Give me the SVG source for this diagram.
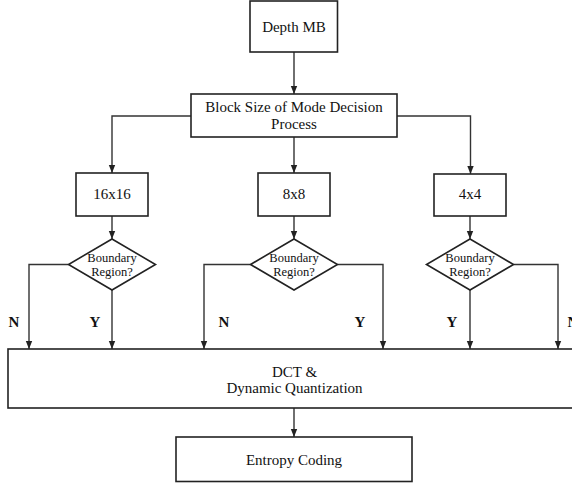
<svg xmlns="http://www.w3.org/2000/svg" width="572" height="484" viewBox="0 0 572 484">
<style>
.box{fill:#fff;stroke:#222;stroke-width:1.6}
.ln{fill:none;stroke:#333;stroke-width:1.4;marker-end:url(#ah)}
.t{font-family:"Liberation Serif","Times New Roman",serif;font-size:15px;fill:#111;text-anchor:middle}
.s{font-family:"Liberation Serif","Times New Roman",serif;font-size:12.5px;fill:#111;text-anchor:middle}
.b{font-family:"Liberation Serif","Times New Roman",serif;font-size:15px;font-weight:bold;fill:#111;text-anchor:middle}
</style>
<defs>
<marker id="ah" viewBox="0 0 8 8" refX="8" refY="4" markerWidth="8" markerHeight="8" markerUnits="userSpaceOnUse" orient="auto">
<path d="M0,0.8 L8,4 L0,7.2 Z" fill="#222"/>
</marker>
</defs>
<rect width="572" height="484" fill="#fff"/>
<g id="connectors">
<path class="ln" d="M294,52 V94"/>
<path class="ln" d="M191,116 H112 V173"/>
<path class="ln" d="M294,137 V173"/>
<path class="ln" d="M397,116 H470.5 V174"/>
<path class="ln" d="M112,216 V239"/>
<path class="ln" d="M294,216 V239"/>
<path class="ln" d="M470,216 V239"/>
<path class="ln" d="M68.5,264.5 H29 V349"/>
<path class="ln" d="M112,290 V349"/>
<path class="ln" d="M250.5,264.5 H204 V349"/>
<path class="ln" d="M337.5,264.5 H383 V349"/>
<path class="ln" d="M470,290 V349"/>
<path class="ln" d="M513.5,264.5 H558 V349"/>
<path class="ln" d="M294,408 V437"/>
<text class="b" x="14" y="327">N</text>
<text class="b" x="95" y="327">Y</text>
<text class="b" x="224" y="327">N</text>
<text class="b" x="360" y="327">Y</text>
<text class="b" x="452" y="327">Y</text>
<text class="b" x="573" y="327">N</text>
</g>
<g id="depth-mb">
<rect class="box" x="250" y="1" width="87.5" height="51"/>
<text class="t" x="294" y="32">Depth MB</text>
</g>
<g id="block-size">
<rect class="box" x="191" y="94" width="206" height="43"/>
<text class="t" x="294" y="112">Block Size of Mode Decision</text>
<text class="t" x="294" y="129">Process</text>
</g>
<g id="b16">
<rect class="box" x="76" y="173" width="72" height="43"/>
<text class="t" x="112" y="199">16x16</text>
</g>
<g id="b8">
<rect class="box" x="258" y="173" width="72" height="43"/>
<text class="t" x="294" y="199">8x8</text>
</g>
<g id="b4">
<rect class="box" x="434" y="174" width="72" height="42"/>
<text class="t" x="470" y="199">4x4</text>
</g>
<g id="d16">
<polygon class="box" points="112,239 155.5,264.5 112,290 68.5,264.5"/>
<text class="s" x="112" y="262">Boundary</text>
<text class="s" x="112" y="276">Region?</text>
</g>
<g id="d8">
<polygon class="box" points="294,239 337.5,264.5 294,290 250.5,264.5"/>
<text class="s" x="294" y="262">Boundary</text>
<text class="s" x="294" y="276">Region?</text>
</g>
<g id="d4">
<polygon class="box" points="470,239 513.5,264.5 470,290 426.5,264.5"/>
<text class="s" x="470" y="262">Boundary</text>
<text class="s" x="470" y="276">Region?</text>
</g>
<g id="dct">
<rect class="box" x="8" y="349" width="600" height="59"/>
<text class="t" x="294.5" y="377">DCT &amp;</text>
<text class="t" x="294.5" y="393">Dynamic Quantization</text>
</g>
<g id="entropy">
<rect class="box" x="176" y="437" width="236" height="44.5"/>
<text class="t" x="294" y="465">Entropy Coding</text>
</g>
</svg>
